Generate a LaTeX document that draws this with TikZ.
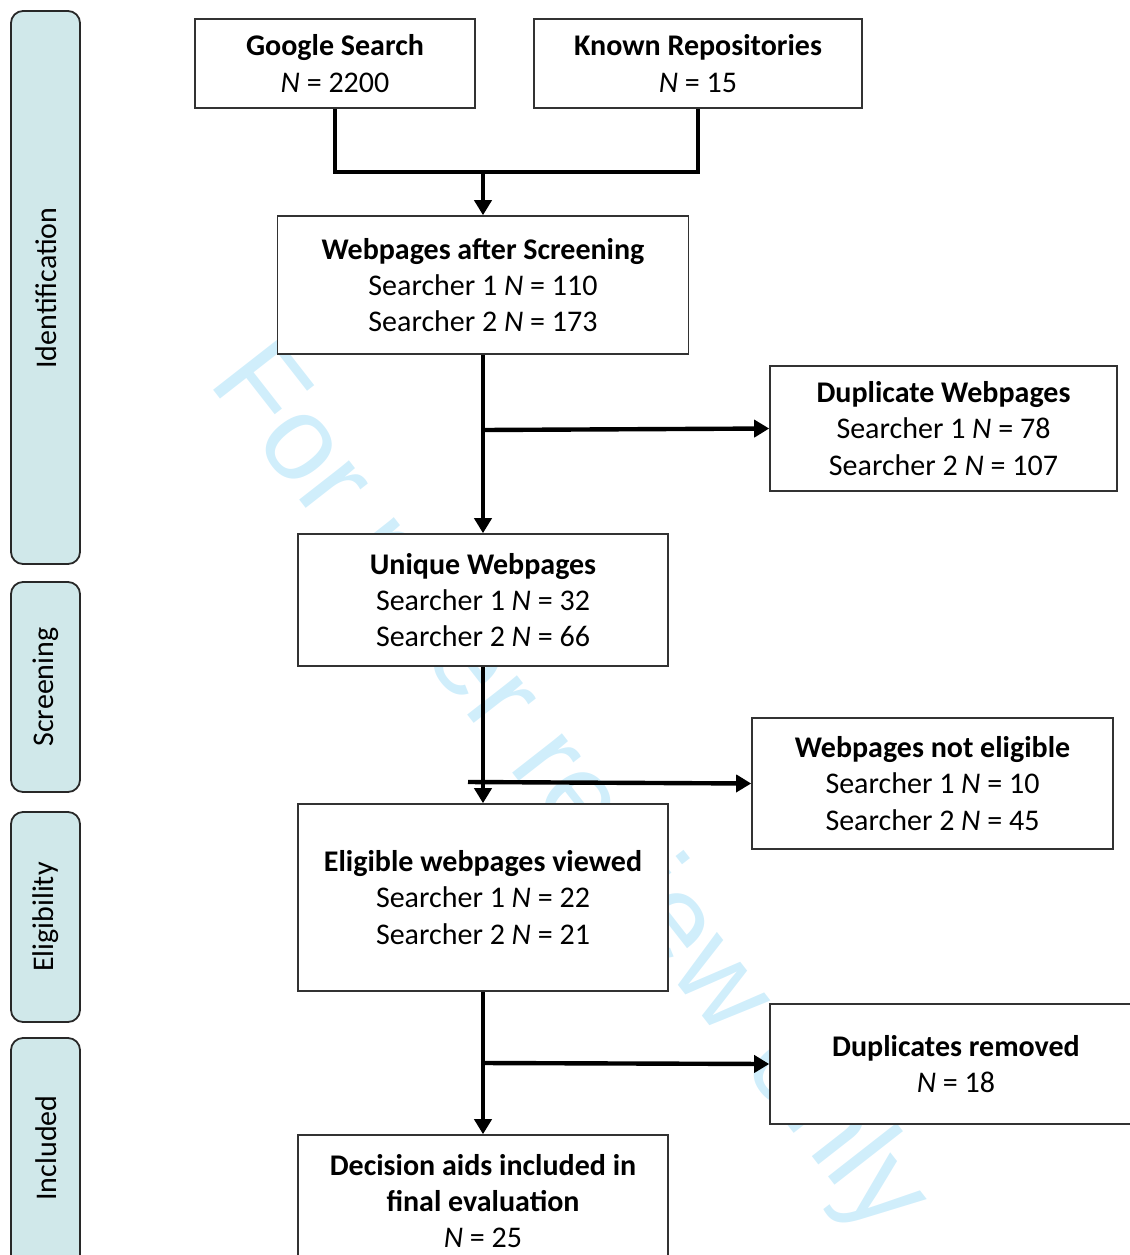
\documentclass[tikz,border=0pt]{standalone}
\usepackage{fontspec}
\setmainfont{Carlito}
\newfontfamily\wmfont{Liberation Sans}
\usetikzlibrary{arrows.meta}
\definecolor{sidefill}{RGB}{208,232,234}
\definecolor{sideline}{RGB}{40,40,40}
\definecolor{wmcol}{RGB}{208,238,251}
\definecolor{boxline}{RGB}{50,50,50}
\begin{document}
\begin{tikzpicture}[x=0.5pt,y=-0.5pt,
  box/.style={draw=boxline, fill=white, line width=0.8pt, inner sep=0pt, align=center,
    font=\fontsize{15}{18.2}\selectfont},
  side/.style={draw=sideline, fill=sidefill, rounded corners=6pt, line width=0.9pt},
  sidelabel/.style={rotate=90, font=\fontsize{15}{18}\selectfont, inner sep=0pt},
  flow/.style={line width=2.2pt, -{Triangle[width=8.5pt,length=7.5pt]}},
  joinline/.style={line width=2.4pt}]
\useasboundingbox (0,0) rectangle (1130,1255);

% watermark
\node[font=\wmfont\fontsize{60}{62}\selectfont, text=wmcol, rotate=-52, inner sep=0pt] (wm) at (567,792) {For peer review only};

% side bars
\draw[side] (11,11) rectangle (80,564);
\node[sidelabel] (sid) at (46,288) {Identification};
\draw[side] (11,582) rectangle (80,792);
\node[sidelabel] (sscr) at (46,687) {Screening};
\draw[side] (11,812) rectangle (80,1022);
\node[sidelabel] (selig) at (46,917) {Eligibility};
\draw[side] (11,1038) rectangle (80,1285);
\node[sidelabel] (sinc) at (46,1148) {Included};

% boxes
\node[box, minimum width=140pt, minimum height=44.5pt] (google) at (335,63.5)
  {\textbf{Google Search}\\\textit{N} = 2200};
\node[box, minimum width=164pt, minimum height=44.5pt] (known) at (698,63.5)
  {\textbf{Known Repositories}\\\textit{N} = 15};
\node[box, minimum width=205.5pt, minimum height=69pt] (screen) at (483,285)
  {\textbf{Webpages after Screening}\\Searcher 1 \textit{N} = 110\\Searcher 2 \textit{N} = 173};
\node[box, minimum width=173.5pt, minimum height=62.5pt] (dup) at (943.5,428.5)
  {\textbf{Duplicate Webpages}\\Searcher 1 \textit{N} = 78\\Searcher 2 \textit{N} = 107};
\node[box, minimum width=185pt, minimum height=66pt] (unique) at (483,600)
  {\textbf{Unique Webpages}\\Searcher 1 \textit{N} = 32\\Searcher 2 \textit{N} = 66};
\node[box, minimum width=180.5pt, minimum height=65.5pt] (notel) at (932.5,783.5)
  {\textbf{Webpages not eligible}\\Searcher 1 \textit{N} = 10\\Searcher 2 \textit{N} = 45};
\node[box, minimum width=185pt, minimum height=93.5pt] (elig) at (483,897.5)
  {\textbf{Eligible webpages viewed}\\Searcher 1 \textit{N} = 22\\Searcher 2 \textit{N} = 21};
\node[box, minimum width=186pt, minimum height=60pt] (duprem) at (956,1064)
  {\textbf{Duplicates removed}\\\textit{N} = 18};
\node[box, minimum width=185pt, minimum height=66pt] (final) at (483,1201)
  {\textbf{Decision aids included in}\\\textbf{final evaluation}\\\textit{N} = 25};

% connectors
\coordinate (j1) at (483,172);
\draw[joinline] (google.south) -- (google.south |- j1) -- (known.south |- j1) -- (known.south);
\draw[flow] (j1) -- (screen.north);
\draw[flow] (screen.south) -- (unique.north);
\coordinate (b1) at (483,430);
\draw[flow] (b1) -- (dup.west);
\draw[flow] (unique.south) -- (elig.north);
\coordinate (b2) at (468,782);
\draw[flow] (b2) -- (notel.west);
\draw[flow] (elig.south) -- (final.north);
\coordinate (b3) at (483,1063);
\draw[flow] (b3) -- (duprem.west);
\end{tikzpicture}
\end{document}
